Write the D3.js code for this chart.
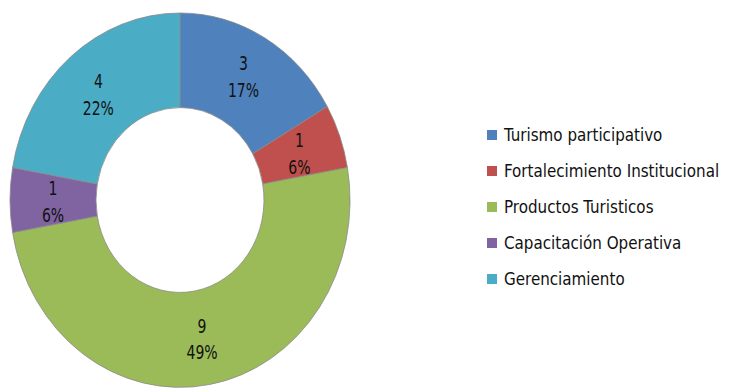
<!DOCTYPE html>
<meta charset="utf-8">
<script src="https://d3js.org/d3.v7.min.js"></script>
<body style="margin:0">
<script>
    // Data
    var categories = ["Turismo participativo", "Fortalecimiento Institucional", "Productos Turisticos", "Capacitación Operativa", "Gerenciamiento"];
    var values = [3, 1, 9, 1, 4];
    var pctLabels = ["17%", "6%", "49%", "6%", "22%"];
    var colors = ["#4F81BD", "#C0504D", "#9BBB59", "#8064A2", "#4BACC6"];

    var SVGWidth = 729, SVGHeight = 388;
    var cx = 180, cy = 200;
    var outerR = 170, innerR = 84, yScale = 1.1;
    var font = "'Liberation Sans Narrow', 'DejaVu Sans Condensed', 'Arial Narrow', sans-serif";

    var svg = d3.select("body").append("svg")
        .attr("width", SVGWidth)
        .attr("height", SVGHeight)
        .style("background", "white");

    var pie = d3.pie().sort(null).value(function(d) { return d; });
    var arc = d3.arc().innerRadius(innerR).outerRadius(outerR);
    var arcs = pie(values);

    // Donut (slightly taller than wide, like the original)
    var g = svg.append("g")
        .attr("transform", "translate(" + cx + "," + cy + ") scale(1," + yScale + ")");

    g.selectAll("path")
        .data(arcs)
        .enter().append("path")
        .attr("d", arc)
        .attr("fill", function(d, i) { return colors[i]; })
        .attr("stroke", "#8a8a8a")
        .attr("stroke-width", 0.8)
        .attr("vector-effect", "non-scaling-stroke");

    // Labels (value + percentage), squeezed a bit to look like a narrow font
    var labels = svg.append("g")
        .attr("transform", "translate(" + cx + "," + cy + ")");

    arcs.forEach(function(d, i) {
        var c = arc.centroid(d);
        var y = c[1] * yScale;
        if (i === 0) y -= 4; // top label sits a little higher in the original
        var t = labels.append("g")
            .attr("transform", "translate(" + c[0] + "," + y + ") scale(0.82,1)")
            .append("text")
            .attr("text-anchor", "middle")
            .style("font", "19px " + font)
            .attr("fill", "#111");
        t.append("tspan").attr("x", 0).attr("dy", "-0.25em").text(values[i]);
        t.append("tspan").attr("x", 0).attr("dy", "1.4em").text(pctLabels[i]);
    });

    // Legend
    var legend = svg.append("g")
        .attr("transform", "translate(487,134)");

    var items = legend.selectAll("g")
        .data(categories)
        .enter().append("g")
        .attr("transform", function(d, i) { return "translate(0," + (i * 36) + ")"; });

    items.append("rect")
        .attr("x", 0).attr("y", -4)
        .attr("width", 10).attr("height", 10)
        .attr("fill", function(d, i) { return colors[i]; });

    items.append("g")
        .attr("transform", "translate(17,7) scale(0.91,1)")
        .append("text")
        .style("font", "18.5px " + font)
        .attr("fill", "#111")
        .text(function(d) { return d; });
</script>
</body>
